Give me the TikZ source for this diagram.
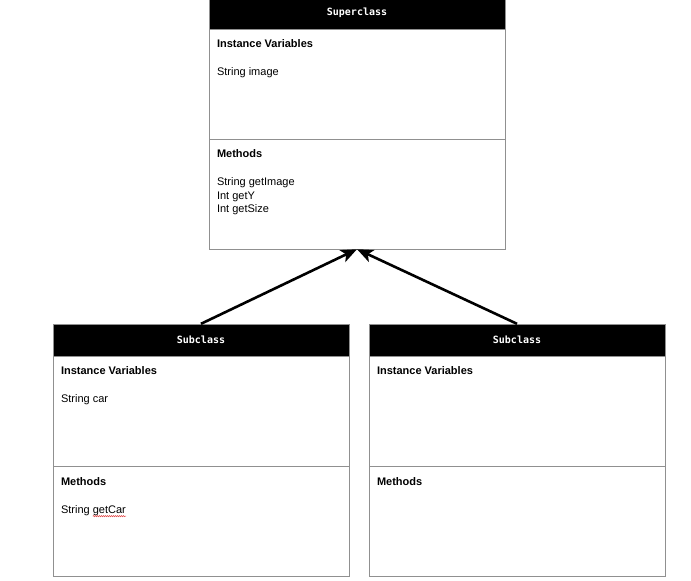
\documentclass[tikz,border=0pt]{standalone}
\usepackage{fontspec}
\setmainfont{Liberation Sans}
\newfontfamily\headfont{DejaVu Sans Mono}
\usetikzlibrary{arrows.meta,decorations.pathmorphing}
\definecolor{boxgray}{HTML}{909090}
\definecolor{spellred}{HTML}{E04040}

\tikzset{
    classhead/.style={draw=boxgray, fill=black, text=white, font=\headfont\bfseries\fontsize{10pt}{12pt}\selectfont,
        minimum width=296pt, minimum height=32pt, inner sep=0pt},
    classpart/.style={draw=boxgray, fill=white, minimum width=296pt, minimum height=110pt, inner sep=0pt},
    parttitle/.style={anchor=base west, inner sep=0pt, font=\fontsize{11pt}{13.5pt}\selectfont\bfseries},
    partitem/.style={anchor=base west, inner sep=0pt, font=\fontsize{11pt}{13.5pt}\selectfont},
    inherit/.style={-{Stealth[length=16pt,width=13pt,inset=4pt]}, line width=2.6pt}
}

\begin{document}
\begin{tikzpicture}[x=1pt, y=-1pt]
    \useasboundingbox (0,0) rectangle (691,581);

    % superclass
    \node[classhead] (suphead) at (357,13) {Superclass};
    \node[classpart] (supvar) at (357,84) {};
    \node[classpart] (supmet) at (357,194) {};
    \node[parttitle] (supvart) at ([shift={(8,19)}]supvar.north west) {Instance Variables};
    \node[partitem] (supv1) at ([shift={(8,47)}]supvar.north west) {String image};
    \node[parttitle] (supmett) at ([shift={(8,19)}]supmet.north west) {Methods};
    \node[partitem] (supm1) at ([shift={(8,47)}]supmet.north west) {String getImage};
    \node[partitem] (supm2) at ([shift={(8,60.5)}]supmet.north west) {Int getY};
    \node[partitem] (supm3) at ([shift={(8,74)}]supmet.north west) {Int getSize};

    % left subclass
    \node[classhead] (lefthead) at (201,340) {Subclass};
    \node[classpart] (leftvar) at (201,411) {};
    \node[classpart] (leftmet) at (201,521.5) {};
    \node[parttitle] (leftvart) at ([shift={(8,19)}]leftvar.north west) {Instance Variables};
    \node[partitem] (leftv1) at ([shift={(8,47)}]leftvar.north west) {String car};
    \node[parttitle] (leftmett) at ([shift={(8,19)}]leftmet.north west) {Methods};
    \node[partitem] (leftm1) at ([shift={(8,47)}]leftmet.north west) {String getCar};
    \draw[spellred, line width=0.5pt, decorate, decoration={snake, segment length=2pt, amplitude=0.6pt}]
        ([shift={(32,2.8)}]leftm1.base west) -- ([shift={(0,2.8)}]leftm1.base east);

    % right subclass
    \node[classhead] (righthead) at (517,340) {Subclass};
    \node[classpart] (rightvar) at (517,411) {};
    \node[classpart] (rightmet) at (517,521.5) {};
    \node[parttitle] (rightvart) at ([shift={(8,19)}]rightvar.north west) {Instance Variables};
    \node[parttitle] (rightmett) at ([shift={(8,19)}]rightmet.north west) {Methods};

    % inheritance
    \draw[inherit] (lefthead.north) -- (supmet.south);
    \draw[inherit] (righthead.north) -- (supmet.south);
\end{tikzpicture}
\end{document}
